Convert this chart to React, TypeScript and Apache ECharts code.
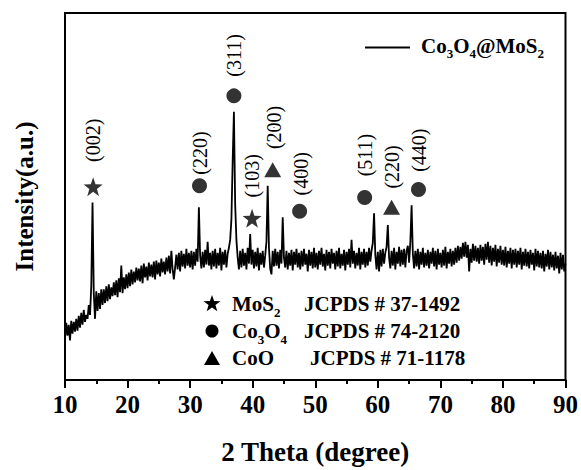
import React, { useEffect, useRef } from "react";
import * as echarts from "echarts";

const THETA_START = 10;
const THETA_STEP = 0.2;
const intensity = [
  42, 58, 45, 56, 40, 60, 47, 59, 49, 62,
  50, 65, 53, 68, 56, 71, 59, 66, 62, 76,
  66, 95, 180, 88, 62, 90, 70, 88, 72, 92,
  76, 92, 78, 95, 80, 97, 82, 94, 85, 99,
  86, 101, 84, 103, 89, 116, 88, 104, 92, 107,
  93, 109, 95, 112, 97, 110, 99, 114, 101, 113,
  100, 116, 98, 118, 104, 115, 101, 119, 105, 117,
  104, 120, 102, 121, 107, 119, 105, 123, 109, 120,
  107, 124, 110, 126, 108, 131, 112, 102, 114, 127,
  112, 129, 110, 131, 115, 128, 113, 133, 116, 129,
  114, 131, 112, 130, 116, 133, 120, 175, 126, 113,
  130, 114, 132, 117, 140, 116, 129, 112, 131, 115,
  133, 113, 129, 116, 134, 111, 130, 117, 132, 114,
  128, 134, 142, 163, 222, 272, 178, 142, 124, 112,
  131, 114, 133, 116, 129, 112, 134, 118, 148, 117,
  132, 113, 130, 115, 134, 111, 129, 117, 131, 114,
  126, 140, 197, 134, 113, 107, 131, 115, 133, 116,
  130, 113, 132, 118, 165, 124, 114, 131, 112, 129,
  116, 132, 111, 130, 117, 133, 114, 129, 112, 131,
  115, 133, 117, 128, 110, 132, 116, 130, 113, 134,
  114, 129, 112, 131, 117, 134, 115, 128, 111, 132,
  116, 130, 113, 133, 118, 129, 112, 131, 115, 134,
  113, 128, 116, 132, 111, 130, 117, 133, 114, 142,
  118, 131, 113, 129, 116, 134, 112, 130, 117, 133,
  114, 130, 116, 134, 120, 131, 139, 169, 127, 112,
  130, 110, 132, 115, 133, 118, 129, 135, 157, 124,
  113, 131, 116, 134, 112, 130, 118, 135, 115, 132,
  117, 133, 114, 131, 136, 119, 140, 177, 128, 113,
  131, 115, 133, 112, 130, 117, 134, 114, 129, 116,
  132, 113, 130, 118, 134, 115, 131, 112, 133, 117,
  129, 114, 132, 116, 135, 113, 130, 118, 133, 115,
  131, 117, 134, 119, 136, 121, 135, 123, 139, 125,
  140, 124, 137, 110, 133, 119, 138, 121, 136, 120,
  134, 118, 137, 121, 135, 117, 138, 122, 140, 119,
  136, 116, 134, 120, 137, 115, 133, 119, 136, 117,
  132, 116, 135, 114, 131, 118, 134, 113, 132, 117,
  133, 114, 131, 117, 134, 112, 130, 116, 133, 115,
  130, 113, 132, 117, 129, 111, 133, 115, 131, 114,
  129, 113, 131, 110, 128, 115, 132, 112, 130, 114,
  127, 111, 130, 113, 126, 108, 129, 112, 127, 110,
  118,
];

const xTicks = [10, 20, 30, 40, 50, 60, 70, 80, 90];

// phase markers [2θ, intensity]
const starMarkers = [[14.5, 196], [39.9, 164]];
const circleMarkers = [[31.5, 197], [37.0, 288], [47.5, 171], [57.9, 185], [66.5, 193]];
const triangleMarkers = [[43.2, 213], [62.2, 175]];

// Miller index labels and their positions [2θ, intensity]
const hklLabels = ["(002)", "(220)", "(311)", "(103)", "(200)", "(400)", "(511)", "(220)", "(440)"];
const hklPositions = [
  [14.5, 243], [31.5, 230], [37.0, 329], [39.9, 207], [43.4, 256],
  [47.8, 209], [57.9, 228], [62.2, 216], [66.6, 233],
];

const phaseNames = ["{n|MoS}{s|2}", "{n|Co}{s|3}{n|O}{s|4}", "{n|CoO}"];
const phaseCards = ["JCPDS # 37-1492", "JCPDS # 74-2120", "JCPDS # 71-1178"];

const FONT = "'Liberation Serif', 'Times New Roman', serif";

function starPoints(cx: number, cy: number, r: number): number[][] {
  const pts: number[][] = [];
  for (let k = 0; k < 10; k++) {
    const a = ((-90 + k * 36) * Math.PI) / 180;
    const rr = k % 2 === 0 ? r : r * 0.4;
    pts.push([cx + rr * Math.cos(a), cy + rr * Math.sin(a)]);
  }
  return pts;
}

function starPath(): string {
  const pts = starPoints(50, 50, 50);
  return "path://" + pts.map((p, i) => (i === 0 ? "M" : "L") + p[0].toFixed(2) + "," + p[1].toFixed(2)).join(" ") + " Z";
}

export default function App() {
  const ref = useRef<HTMLDivElement>(null);

  useEffect(() => {
    if (!ref.current) return;
    const chart = echarts.init(ref.current, undefined, { renderer: "svg" });
    const lineData = intensity.map((v, i) => [THETA_START + i * THETA_STEP, v]);

    const richSmall = {
      n: { fontSize: 21, fontWeight: "bold", fontFamily: FONT, color: "#000", verticalAlign: "top", padding: [0, 0, 4, 0] },
      s: { fontSize: 13, fontWeight: "bold", fontFamily: FONT, color: "#000", verticalAlign: "bottom" },
    };

    const legendRows = phaseNames.map((_, i) => 304 + i * 27);
    const graphic: any[] = [];
    graphic.push({
      type: "polygon",
      shape: { points: starPoints(212, legendRows[0], 9) },
      style: { fill: "#000" },
    });
    graphic.push({ type: "circle", shape: { cx: 212, cy: legendRows[1], r: 6.5 }, style: { fill: "#000" } });
    graphic.push({
      type: "polygon",
      shape: { points: [[212, legendRows[2] - 7], [220, legendRows[2] + 7], [204, legendRows[2] + 7]] },
      style: { fill: "#000" },
    });
    phaseNames.forEach((t, i) => {
      graphic.push({
        type: "text",
        x: 232,
        y: legendRows[i] + 2,
        style: { text: t, rich: richSmall, verticalAlign: "middle", align: "left" },
      });
      graphic.push({
        type: "text",
        x: i === 2 ? 310 : 304,
        y: legendRows[i],
        style: {
          text: phaseCards[i],
          fontSize: 21,
          fontWeight: "bold",
          fontFamily: FONT,
          fill: "#000",
          verticalAlign: "middle",
          align: "left",
        },
      });
    });

    chart.setOption({
      animation: false,
      backgroundColor: "#fff",
      grid: {
        left: 65,
        right: 15,
        top: 13,
        bottom: 85,
        show: true,
        borderColor: "#000",
        borderWidth: 2,
        backgroundColor: "transparent",
      },
      legend: {
        data: [{ name: "Co3O4@MoS2", icon: "rect" }],
        left: 360,
        top: 30,
        itemWidth: 45,
        itemHeight: 2,
        itemGap: 10,
        formatter: () => "{n|Co}{s|3}{n|O}{s|4}{n|@MoS}{s|2}",
        textStyle: {
          padding: [0, 0, 0, 6],
          rich: richSmall,
        },
      },
      xAxis: {
        type: "value",
        min: 10,
        max: 90,
        interval: 10,
        name: "2 Theta (degree)",
        nameLocation: "middle",
        nameGap: 58,
        nameTextStyle: { fontSize: 27, fontWeight: "bold", fontFamily: FONT, color: "#000" },
        axisLine: { show: true, lineStyle: { color: "#000", width: 2 } },
        axisTick: { show: true, inside: false, length: 8, lineStyle: { color: "#000", width: 2 } },
        minorTick: { show: true, splitNumber: 2, length: 4, lineStyle: { color: "#000", width: 2 } },
        axisLabel: {
          fontSize: 25,
          fontWeight: "bold",
          fontFamily: FONT,
          color: "#000",
          margin: 12,
          formatter: (v: number) => (xTicks.includes(v) ? String(v) : ""),
        },
        splitLine: { show: false },
      },
      yAxis: {
        type: "value",
        min: 0,
        max: 372,
        name: "Intensity(a.u.)",
        nameLocation: "middle",
        nameGap: 28,
        nameTextStyle: { fontSize: 25, fontWeight: "bold", fontFamily: FONT, color: "#000" },
        axisLine: { show: false },
        axisTick: { show: false },
        axisLabel: { show: false },
        splitLine: { show: false },
      },
      series: [
        {
          name: "Co3O4@MoS2",
          type: "line",
          data: lineData,
          symbol: "none",
          lineStyle: { color: "#000", width: 1.8 },
          itemStyle: { color: "#000" },
          z: 3,
        },
        {
          name: "stars",
          type: "scatter",
          data: starMarkers,
          symbol: starPath(),
          symbolSize: 19,
          itemStyle: { color: "#000" },
          z: 4,
        },
        {
          name: "circles",
          type: "scatter",
          data: circleMarkers,
          symbol: "circle",
          symbolSize: 15,
          itemStyle: { color: "#000" },
          z: 4,
        },
        {
          name: "triangles",
          type: "scatter",
          data: triangleMarkers,
          symbol: "triangle",
          symbolSize: [17, 15],
          itemStyle: { color: "#000" },
          z: 4,
        },
        {
          name: "hkl",
          type: "scatter",
          data: hklPositions.map((p, i) => ({ value: p, name: hklLabels[i] })),
          symbolSize: 1,
          itemStyle: { color: "#000", opacity: 1 },
          label: {
            show: true,
            position: "inside",
            rotate: 90,
            formatter: (p: any) => p.name,
            fontSize: 20,
            fontFamily: FONT,
            color: "#000",
            textBorderWidth: 0,
            opacity: 1,
          },
          labelLayout: { hideOverlap: false },
          z: 5,
        },
      ],
      graphic,
    });

    return () => chart.dispose();
  }, []);

  return <div ref={ref} style={{ width: 581, height: 470, position: "absolute", left: 0, top: 0 }} />;
}
